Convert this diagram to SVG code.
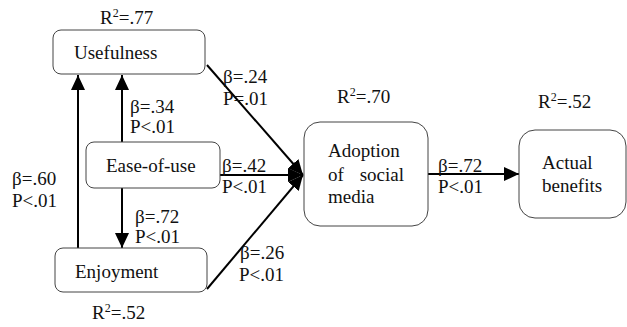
<svg xmlns="http://www.w3.org/2000/svg" width="627" height="327" viewBox="0 0 627 327">
<style>
text{font-family:"Liberation Serif","Times New Roman",serif;font-size:19px;fill:#111}
.box{fill:#fff;stroke:#444;stroke-width:1}
.c{stroke:#000;stroke-width:2;fill:none;marker-end:url(#ah)}
.sup{font-size:12px}
</style>
<defs>
<marker id="ah" markerUnits="userSpaceOnUse" markerWidth="16" markerHeight="14" refX="15" refY="7" orient="auto">
<path d="M0,0 L15,7 L0,14 Z" fill="#000"/>
</marker>
</defs>
<rect width="627" height="327" fill="#fff"/>
<g id="connectors">
<line class="c" x1="78" y1="248" x2="78" y2="75"/>
<line class="c" x1="122" y1="142" x2="122" y2="75"/>
<line class="c" x1="122" y1="188" x2="122" y2="248"/>
<line class="c" x1="207" y1="65" x2="303" y2="175"/>
<line class="c" x1="220" y1="175" x2="303" y2="175"/>
<line class="c" x1="207" y1="289" x2="303" y2="175"/>
<line class="c" x1="428" y1="174" x2="519" y2="174"/>
</g>
<g id="usefulness">
<rect class="box" x="53" y="30" width="152" height="44" rx="8"/>
<text x="74" y="59">Usefulness</text>
<text x="100" y="24">R<tspan class="sup" dy="-7">2</tspan><tspan dy="7">=.77</tspan></text>
</g>
<g id="ease">
<rect class="box" x="86" y="142" width="134" height="46" rx="8"/>
<text x="106" y="172">Ease-of-use</text>
</g>
<g id="enjoyment">
<rect class="box" x="55" y="248" width="152" height="44" rx="8"/>
<text x="75" y="278">Enjoyment</text>
<text x="92" y="319">R<tspan class="sup" dy="-7">2</tspan><tspan dy="7">=.52</tspan></text>
</g>
<g id="adoption">
<rect class="box" x="304" y="122" width="124" height="104" rx="16"/>
<text x="328" y="157">Adoption</text>
<text x="328" y="181">of</text>
<text x="404" y="181" text-anchor="end">social</text>
<text x="328" y="203">media</text>
<text x="337" y="103">R<tspan class="sup" dy="-7">2</tspan><tspan dy="7">=.70</tspan></text>
</g>
<g id="benefits">
<rect class="box" x="519" y="130" width="107" height="88" rx="16"/>
<text x="542" y="169">Actual</text>
<text x="542" y="192">benefits</text>
<text x="538" y="108">R<tspan class="sup" dy="-7">2</tspan><tspan dy="7">=.52</tspan></text>
</g>
<g id="labels">
<text x="130" y="113">β=.34</text>
<text x="130" y="133">P&lt;.01</text>
<text x="12" y="185">β=.60</text>
<text x="12" y="207">P&lt;.01</text>
<text x="135" y="223">β=.72</text>
<text x="135" y="243">P&lt;.01</text>
<text x="223" y="83">β=.24</text>
<text x="223" y="105">P=.01</text>
<text x="222" y="172">β=.42</text>
<text x="222" y="193">P&lt;.01</text>
<text x="240" y="259">β=.26</text>
<text x="239" y="281">P&lt;.01</text>
<text x="438" y="172">β=.72</text>
<text x="438" y="193">P&lt;.01</text>
</g>
</svg>
